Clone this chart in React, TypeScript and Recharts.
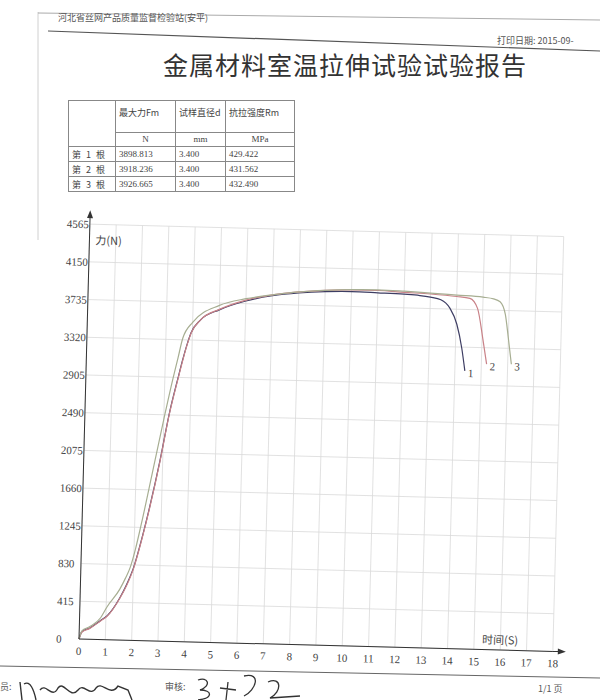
import React from 'react';
import { LineChart, Line, XAxis, YAxis, CartesianGrid } from 'recharts';

// axis ticks
const timeTicks = [0, 1, 2, 3, 4, 5, 6, 7, 8, 9, 10, 11, 12, 13, 14, 15, 16, 17, 18];
const forceTicks = [0, 415, 830, 1245, 1660, 2075, 2490, 2905, 3320, 3735, 4150, 4565];

// specimen 1 (dark)
const time1 = [0, 0.1, 0.4, 0.8, 1.05, 1.5, 1.75, 2.0, 2.25, 2.55, 2.9, 3.2, 3.5, 3.65, 3.8, 3.95, 4.3, 5.0, 6.0, 7.0, 8.0, 9.0, 10.0, 11.0, 12.0, 12.6, 13.0, 13.4, 13.75, 14.03, 14.24, 14.38];
const force1 = [0, 80, 125, 210, 265, 460, 610, 800, 1080, 1470, 1990, 2500, 2900, 3090, 3260, 3400, 3545, 3660, 3765, 3830, 3868, 3890, 3899, 3893, 3885, 3875, 3860, 3835, 3745, 3570, 3310, 3060];

// specimen 2 (red)
const time2 = [0, 0.1, 0.4, 0.8, 1.05, 1.5, 1.75, 2.0, 2.25, 2.55, 2.9, 3.2, 3.5, 3.65, 3.8, 3.95, 4.3, 5.0, 6.0, 7.0, 8.0, 9.0, 10.0, 11.0, 12.0, 13.0, 14.0, 14.5, 14.8, 15.03, 15.2];
const force2 = [0, 75, 120, 205, 260, 455, 600, 790, 1070, 1460, 1980, 2490, 2890, 3080, 3255, 3395, 3545, 3665, 3775, 3840, 3880, 3905, 3916, 3918, 3905, 3895, 3875, 3858, 3750, 3420, 3140];

// specimen 3 (light)
const time3 = [0, 0.1, 0.4, 0.8, 1.03, 1.5, 1.7, 1.87, 2.05, 2.25, 2.71, 3.04, 3.3, 3.48, 3.64, 4.0, 5.0, 6.0, 7.0, 8.0, 9.0, 10.0, 11.0, 12.0, 13.0, 14.0, 15.0, 15.4, 15.65, 15.86, 16.0, 16.14];
const force3 = [0, 90, 140, 240, 360, 560, 680, 800, 1000, 1280, 1990, 2500, 2880, 3120, 3337, 3515, 3709, 3790, 3840, 3880, 3905, 3920, 3926, 3918, 3905, 3890, 3875, 3860, 3830, 3694, 3431, 3146];

// result table
const specimens = ['第 1 根', '第 2 根', '第 3 根'];
const maxForce = ['3898.813', '3918.236', '3926.665'];
const diameter = ['3.400', '3.400', '3.400'];
const strength = ['429.422', '431.562', '432.490'];

const series = [
  { name: '1', color: '#3d3d63', time: time1, force: force1 },
  { name: '2', color: '#c98288', time: time2, force: force2 },
  { name: '3', color: '#a7ae92', time: time3, force: force3 },
];

const CHART_W = 600;
const CHART_H = 480;
const CHART_TOP = 190;
const margin = { top: 34, right: 47, left: 39, bottom: 6 };
const Y_W = 40;
const X_H = 25;
const plotLeft = margin.left + Y_W;
const plotRight = CHART_W - margin.right;
const plotTop = margin.top;
const plotBottom = CHART_H - margin.bottom - X_H;

const serif = '"Liberation Serif", "DejaVu Serif", "Noto Sans CJK SC", serif';
const cjk = '"Noto Sans CJK SC", "Liberation Serif", sans-serif';

const YTick = (props: any) => {
  const { x, y, payload } = props;
  return (
    <text x={x - 15} y={y + 4} textAnchor="start" fontSize={11} fill="#444" fontFamily={serif}>
      {payload.value}
    </text>
  );
};

const endLabel = (name: string, count: number) => (props: any) => {
  const { x, y, index } = props;
  if (index !== count - 1) return null;
  return (
    <text x={x + 3} y={y + 6} fontSize={11} fill="#444" fontFamily={serif}>
      {name}
    </text>
  );
};

function Chart() {
  return (
    <div
      style={{
        position: 'absolute',
        left: 0,
        top: CHART_TOP,
        width: CHART_W,
        height: CHART_H,
        transform: 'rotate(1.5deg)',
        transformOrigin: `${plotLeft}px ${plotBottom}px`,
      }}
    >
      <LineChart width={CHART_W} height={CHART_H} margin={margin}>
        <CartesianGrid stroke="#dadada" strokeWidth={0.8} />
        <XAxis
          dataKey="t"
          type="number"
          domain={[0, 18]}
          ticks={timeTicks}
          interval={0}
          height={X_H}
          tickLine={false}
          axisLine={{ stroke: '#333' }}
          tick={{ fontSize: 11, fill: '#444', fontFamily: serif }}
        />
        <YAxis
          type="number"
          domain={[0, 4565]}
          ticks={forceTicks}
          interval={0}
          width={Y_W}
          tickLine={false}
          axisLine={{ stroke: '#333' }}
          tick={<YTick />}
        />
        {series.map((s) => (
          <Line
            key={s.name}
            data={s.time.map((t, i) => ({ t, f: s.force[i] }))}
            dataKey="f"
            type="monotone"
            stroke={s.color}
            strokeWidth={1.2}
            dot={false}
            isAnimationActive={false}
            label={endLabel(s.name, s.time.length)}
          />
        ))}
      </LineChart>
      <svg
        width={CHART_W}
        height={CHART_H}
        style={{ position: 'absolute', left: 0, top: 0, pointerEvents: 'none' }}
      >
        <line x1={plotLeft} y1={plotTop} x2={plotLeft} y2={plotTop - 10} stroke="#333" />
        <path d={`M${plotLeft - 3},${plotTop - 6} L${plotLeft},${plotTop - 14} L${plotLeft + 3},${plotTop - 6} Z`} fill="#333" />
        <line x1={plotRight} y1={plotBottom} x2={plotRight + 6} y2={plotBottom} stroke="#333" />
        <path d={`M${plotRight + 5},${plotBottom - 3} L${plotRight + 13},${plotBottom} L${plotRight + 5},${plotBottom + 3} Z`} fill="#333" />
        <text x={plotLeft + 6} y={plotTop + 20} fontSize={11} fill="#444" fontFamily={cjk}>
          力(N)
        </text>
        <text x={plotRight - 53} y={plotBottom - 6} textAnchor="middle" fontSize={11} fill="#444" fontFamily={cjk}>
          时间(S)
        </text>
      </svg>
    </div>
  );
}

const cell: React.CSSProperties = {
  border: '1px solid #888',
  padding: '0 3px',
  fontSize: 9,
  color: '#444',
  fontFamily: serif,
  whiteSpace: 'nowrap',
  height: 14,
  lineHeight: '13px',
};

function ResultTable() {
  const head: React.CSSProperties = { ...cell, fontFamily: cjk, verticalAlign: 'top', paddingTop: 5, height: 26 };
  const unit: React.CSSProperties = { ...cell, textAlign: 'center', height: 12 };
  return (
    <table
      style={{
        position: 'absolute',
        left: 68,
        top: 100,
        borderCollapse: 'collapse',
        tableLayout: 'fixed',
        width: 226,
      }}
    >
      <colgroup>
        <col style={{ width: 47 }} />
        <col style={{ width: 60 }} />
        <col style={{ width: 50 }} />
        <col style={{ width: 69 }} />
      </colgroup>
      <tbody>
        <tr>
          <td style={head} rowSpan={2}></td>
          <td style={head}>最大力Fm</td>
          <td style={head}>试样直径d</td>
          <td style={head}>抗拉强度Rm</td>
        </tr>
        <tr>
          <td style={unit}>N</td>
          <td style={unit}>mm</td>
          <td style={unit}>MPa</td>
        </tr>
        {specimens.map((s, i) => (
          <tr key={s}>
            <td style={{ ...cell, fontFamily: cjk, wordSpacing: 3 }}>{s}</td>
            <td style={cell}>{maxForce[i]}</td>
            <td style={cell}>{diameter[i]}</td>
            <td style={cell}>{strength[i]}</td>
          </tr>
        ))}
      </tbody>
    </table>
  );
}

export default function App() {
  return (
    <div
      style={{
        position: 'absolute',
        left: 0,
        top: 0,
        width: 600,
        height: 700,
        background: '#fff',
        overflow: 'hidden',
        fontFamily: cjk,
      }}
    >
      <svg width={600} height={700} style={{ position: 'absolute', left: 0, top: 0 }}>
        <line x1={38} y1={12} x2={38} y2={240} stroke="#d0d0d0" />
        <line x1={38} y1={13} x2={600} y2={20} stroke="#aaa" />
        <line x1={48} y1={31} x2={600} y2={51} stroke="#555" strokeWidth={1.2} />
        <line x1={0} y1={666} x2={600} y2={678} stroke="#666" />
        <path d="M20,682 L22,700 M24,684 C30,680 34,690 36,700 M40,690 C46,682 52,700 58,688 C64,680 70,700 78,690 C84,682 90,698 96,688 C102,680 110,698 118,686 L128,690 L132,700" stroke="#333" strokeWidth={1.4} fill="none" />
        <path d="M198,680 C208,676 212,686 200,690 C212,690 214,698 198,700 M220,688 L236,690 M228,682 L226,700 M244,676 C262,672 256,690 244,696 M268,682 C282,676 282,692 270,698 L300,696" stroke="#333" strokeWidth={1.3} fill="none" />
      </svg>
      <div style={{ position: 'absolute', left: 58, top: 11, fontSize: 9, color: '#555' }}>
        河北省丝网产品质量监督检验站(安平)
      </div>
      <div style={{ position: 'absolute', left: 497, top: 34, fontSize: 9, color: '#555', whiteSpace: 'nowrap' }}>
        打印日期: 2015-09-
      </div>
      <div
        style={{
          position: 'absolute',
          left: 0,
          width: 690,
          top: 46,
          textAlign: 'center',
          fontSize: 25,
          letterSpacing: 1,
          color: '#333',
          whiteSpace: 'nowrap',
        }}
      >
        金属材料室温拉伸试验试验报告
      </div>
      <ResultTable />
      <Chart />
      <div style={{ position: 'absolute', left: 0, top: 680, fontSize: 9, color: '#555' }}>员:</div>
      <div style={{ position: 'absolute', left: 165, top: 680, fontSize: 9, color: '#555' }}>审核:</div>
      <div style={{ position: 'absolute', left: 538, top: 682, fontSize: 9, color: '#555' }}>1/1 页</div>
    </div>
  );
}
